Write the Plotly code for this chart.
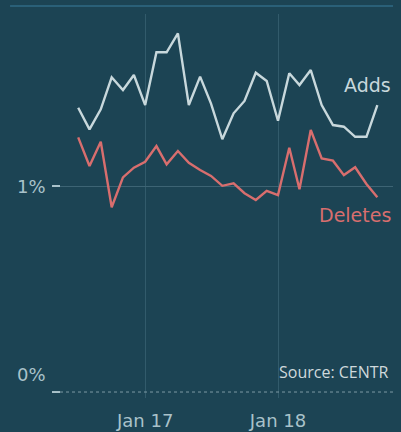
import plotly.graph_objects as go
import pandas as pd

months = pd.date_range("2016-07-01", "2018-10-01", freq="MS").strftime("%Y-%m-%d").tolist()
adds = [1.380, 1.275, 1.372, 1.528, 1.466, 1.539, 1.393, 1.649, 1.649, 1.741,
        1.393, 1.531, 1.400, 1.227, 1.353, 1.413, 1.550, 1.510, 1.317, 1.547,
        1.490, 1.563, 1.393, 1.296, 1.288, 1.239, 1.239, 1.393]
deletes = [1.236, 1.097, 1.215, 0.897, 1.042, 1.089, 1.118, 1.194, 1.105, 1.170,
           1.113, 1.078, 1.049, 1.001, 1.013, 0.965, 0.932, 0.977, 0.956, 1.186,
           0.984, 1.272, 1.134, 1.123, 1.053, 1.091, 1.010, 0.945]
x_tick_vals = ["2017-01-01", "2018-01-01"]
x_tick_text = ["Jan 17", "Jan 18"]
y_tick_vals = [0, 1]
y_tick_text = ["0%", "1%"]

BG = "#1c4454"
ADD_C = "#c8d8dc"
DEL_C = "#d86e6e"
TXT = "#a9c2ca"
GRID = "#325b6b"

fig = go.Figure()
fig.add_trace(go.Scatter(x=months, y=adds, mode="lines", line=dict(color=ADD_C, width=2.4),
                         name="Adds", hoverinfo="skip"))
fig.add_trace(go.Scatter(x=months, y=deletes, mode="lines", line=dict(color=DEL_C, width=2.4),
                         name="Deletes", hoverinfo="skip"))

font = "DejaVu Sans"
fig.update_layout(
    width=401, height=432,
    margin=dict(l=60, r=8, t=14, b=34),
    paper_bgcolor=BG, plot_bgcolor=BG,
    showlegend=False,
    xaxis=dict(range=["2016-05-12", "2018-11-13"], tickvals=x_tick_vals, ticktext=x_tick_text,
               showgrid=True, gridcolor=GRID, gridwidth=1, zeroline=False, showline=False,
               automargin=False,
               ticks="", tickfont=dict(family=font, size=18, color=TXT), ticklabelstandoff=10),
    yaxis=dict(range=[-0.029, 1.835], tickvals=[1], showticklabels=False, automargin=False,
               showgrid=True, gridcolor="#3d6474", gridwidth=1, zeroline=False, showline=False,
               ticks=""),
)

# zero axis (dotted) and tick marks
fig.add_shape(type="line", xref="paper", yref="y", x0=0, x1=1, y0=0, y1=0,
              line=dict(color="#7d99a4", width=1, dash="dot"))
for v in y_tick_vals:
    fig.add_shape(type="line", xref="paper", yref="y", x0=-0.024, x1=0, y0=v, y1=v,
                  line=dict(color=TXT, width=2))
# top rule
fig.add_shape(type="line", xref="paper", yref="paper", x0=-0.150, x1=1.0, y0=1.0208, y1=1.0208,
              line=dict(color="#2a6078", width=2))

# y tick labels
fig.add_annotation(x=-0.036, xref="paper", y=y_tick_vals[1], yref="y", text=y_tick_text[1],
                   showarrow=False, xanchor="right", yanchor="middle",
                   font=dict(family=font, size=18, color=TXT))
fig.add_annotation(x=-0.036, xref="paper", y=y_tick_vals[0], yref="y", text=y_tick_text[0],
                   showarrow=False, xanchor="right", yanchor="bottom", yshift=5,
                   font=dict(family=font, size=18, color=TXT))

# line labels
fig.add_annotation(x=1.0, xref="paper", y=1.49, yref="y", text="Adds", showarrow=False,
                   xanchor="right", yanchor="middle", font=dict(family=font, size=19, color=ADD_C))
fig.add_annotation(x=1.0, xref="paper", y=0.859, yref="y", text="Deletes", showarrow=False,
                   xanchor="right", yanchor="middle", font=dict(family=font, size=19, color=DEL_C))
fig.add_annotation(x=0.994, xref="paper", y=0.097, yref="y", text="Source: CENTR", showarrow=False,
                   xanchor="right", yanchor="middle",
                   font=dict(family="Open Sans", size=16, color="#cfd9dc"))

fig.write_html("out.html", config={"displayModeBar": False},
               post_script="document.body.style.margin='0';document.body.style.overflow='hidden';")
